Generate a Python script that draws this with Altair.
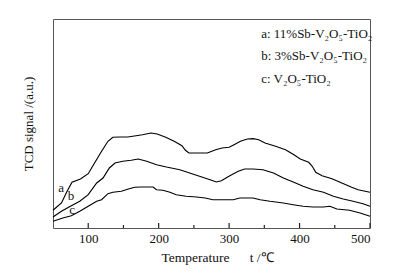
import altair as alt
import pandas as pd

# Curve a: 11%Sb-V2O5-TiO2
temp_a = [50, 62, 70, 77, 89, 100, 109, 119, 128, 135, 144, 156, 168, 177, 189, 198, 210, 222, 233, 238, 243, 257, 269, 281, 290, 300, 307, 316, 326, 334, 342, 351, 366, 380, 392, 401, 413, 418, 423, 432, 446, 460, 474, 483, 500]
sig_a = [17.7, 25, 36.7, 45.7, 49, 54.3, 65, 76.7, 86.7, 90.7, 91, 91, 92.3, 93.3, 95, 94, 90.7, 86.7, 82.3, 77.7, 75, 75, 75, 78.3, 80, 80.7, 83.3, 86.7, 89, 89.3, 88.3, 85, 81.7, 78.3, 73.3, 69, 65.7, 61.7, 55.7, 52.3, 49.3, 45, 40.7, 38.3, 35.7]

# Curve b: 3%Sb-V2O5-TiO2
temp_b = [50, 62, 76, 88, 100, 112, 121, 130, 138, 149, 161, 171, 183, 197, 211, 230, 244, 258, 273, 282, 289, 301, 313, 322, 334, 348, 363, 377, 391, 405, 419, 434, 448, 462, 476, 490, 500]
sig_b = [11, 16.7, 22.3, 26.7, 33.3, 45, 50, 60, 65, 66.7, 67.7, 69, 66.7, 63.3, 61, 58.3, 55, 51.7, 48.3, 46, 47.3, 52.3, 56.7, 59, 59, 58.3, 55, 50, 46, 41.7, 38.3, 35.7, 31.7, 29, 26.7, 24.3, 21.7]

# Curve c: V2O5-TiO2
temp_c = [50, 64, 76, 88, 100, 112, 119, 128, 135, 147, 157, 166, 175, 192, 197, 206, 216, 225, 239, 254, 266, 277, 306, 315, 334, 344, 358, 377, 391, 405, 419, 434, 443, 453, 471, 486, 500]
sig_c = [6.7, 10, 12.3, 16.7, 21.7, 26.7, 28.3, 34.3, 35.7, 36.7, 39, 40.7, 41, 41, 38.3, 37.7, 35.7, 33.3, 31.7, 31, 30, 28.3, 28.3, 30, 30, 28.3, 26.7, 25, 23.3, 21.7, 21, 21, 21.7, 19, 17.7, 15, 11.7]

series_names = ["a", "b", "c"]
major_ticks = [100, 200, 300, 400, 500]
minor_ticks = [150, 250, 350, 450]

# curve tags
tag_text = ["a", "b", "c"]
tag_temp = [61.6, 75.5, 77.2]
tag_sig = [40, 31.6, 17.6]

# legend lines
legend_text = ["a: 11%Sb-V₂O₅-TiO₂", "b: 3%Sb-V₂O₅-TiO₂", "c: V₂O₅-TiO₂"]
legend_temp = [345.5, 345.5, 345.5]
legend_sig = [194.5, 172.5, 149.5]

rows = []
for name, ts, ss in zip(series_names, [temp_a, temp_b, temp_c], [sig_a, sig_b, sig_c]):
    for t, s in zip(ts, ss):
        rows.append({"series": name, "T": t, "signal": s})
df = pd.DataFrame(rows)
tags = pd.DataFrame({"label": tag_text, "T": tag_temp, "signal": tag_sig})
leg = pd.DataFrame({"label": legend_text, "T": legend_temp, "signal": legend_sig})
ticks_df = pd.DataFrame(
    [{"T": t, "y0": 0, "y1": 5} for t in major_ticks] +
    [{"T": t, "y0": 0, "y1": 3} for t in minor_ticks]
)

FONT = "Liberation Serif"
NB = "\u00a0"
xscale = alt.Scale(domain=[50, 500], nice=False, zero=False)
yscale = alt.Scale(domain=[0, 209], nice=False, zero=True)

lines = alt.Chart(df).mark_line(color="black", strokeWidth=1.15).encode(
    x=alt.X("T:Q", scale=xscale, axis=alt.Axis(
        values=major_ticks, ticks=False, domain=False, grid=False, labelPadding=4,
        labelFont=FONT, labelFontSize=13, labelColor="#111", format="d",
        title="Temperature" + NB * 6 + "t /℃", titleFont=FONT, titleFontSize=13.5,
        titleFontWeight="normal", titleColor="#111", titlePadding=5, titleX=164)),
    y=alt.Y("signal:Q", scale=yscale, axis=alt.Axis(
        labels=False, ticks=False, domain=False, grid=False,
        title="TCD signal /(a.u.)", titleFont=FONT, titleFontSize=13,
        titleFontWeight="normal", titleColor="#111", titlePadding=18)),
    detail="series:N",
    order="T:Q",
)

tick_marks = alt.Chart(ticks_df).mark_rule(color="#222", strokeWidth=1.2).encode(
    x=alt.X("T:Q", scale=xscale),
    y=alt.Y("y0:Q", scale=yscale),
    y2="y1:Q",
)

tag_marks = alt.Chart(tags).mark_text(font=FONT, fontSize=13, color="#111").encode(
    x=alt.X("T:Q", scale=xscale),
    y=alt.Y("signal:Q", scale=yscale),
    text="label:N",
)

leg_marks = alt.Chart(leg).mark_text(font=FONT, fontSize=13, color="#111", align="left").encode(
    x=alt.X("T:Q", scale=xscale),
    y=alt.Y("signal:Q", scale=yscale),
    text="label:N",
)

chart = alt.layer(lines, tick_marks, tag_marks, leg_marks).properties(
    width=317, height=209,
    autosize=alt.AutoSizeParams(type="none"),
    padding={"left": 53, "top": 19, "right": 40, "bottom": 46},
    background="white",
).configure_view(stroke="#555", strokeWidth=1)

chart.save("out.html", embed_options={"renderer": "svg", "actions": False})
